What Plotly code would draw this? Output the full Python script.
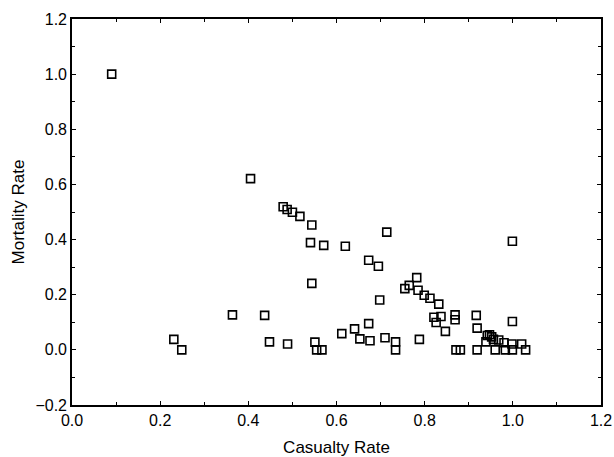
import plotly.graph_objects as go

casualty_rate = [0.090, 0.405, 0.479, 0.488, 0.500, 0.517, 0.544, 0.541, 0.571, 0.620,
                 0.714, 0.999, 0.673, 0.695, 0.544, 0.782, 0.755, 0.765, 0.785, 0.799,
                 0.812, 0.832, 0.698, 0.364, 0.437, 0.821, 0.837, 0.826, 0.847, 0.869,
                 0.869, 0.917, 0.919, 0.999, 0.673, 0.641, 0.612, 0.653, 0.676, 0.710,
                 0.734, 0.734, 0.788, 0.231, 0.249, 0.448, 0.489, 0.551, 0.555, 0.567,
                 0.871, 0.881, 0.919, 0.942, 0.947, 0.952, 0.939, 0.956, 0.968, 0.980,
                 0.998, 1.020, 0.960, 0.983, 0.999, 1.029]
mortality_rate = [1.000, 0.621, 0.519, 0.509, 0.499, 0.484, 0.453, 0.389, 0.379, 0.376,
                  0.427, 0.394, 0.325, 0.303, 0.241, 0.262, 0.222, 0.234, 0.216, 0.198,
                  0.187, 0.166, 0.181, 0.127, 0.125, 0.118, 0.121, 0.099, 0.067, 0.127,
                  0.109, 0.125, 0.079, 0.103, 0.095, 0.076, 0.059, 0.040, 0.033, 0.044,
                  0.029, 0.000, 0.038, 0.038, 0.000, 0.029, 0.021, 0.028, 0.000, 0.000,
                  0.000, 0.000, 0.000, 0.052, 0.055, 0.047, 0.029, 0.038, 0.036, 0.026,
                  0.021, 0.021, 0.000, 0.000, 0.000, 0.000]

x_ticks = [0.0, 0.2, 0.4, 0.6, 0.8, 1.0, 1.2]
y_ticks = [-0.2, 0.0, 0.2, 0.4, 0.6, 0.8, 1.0, 1.2]

fig = go.Figure(go.Scatter(
    x=casualty_rate, y=mortality_rate, mode="markers",
    marker=dict(symbol="square-open", size=8, color="black", line=dict(width=1.6)),
))

FONT = "Liberation Sans, Arial"
axis_common = dict(
    showgrid=False, zeroline=False, showline=True, linecolor="black", linewidth=1.6,
    mirror="ticks", ticks="inside", ticklen=4, tickcolor="black", tickwidth=1,
    minor=dict(ticks="inside", ticklen=3, tickcolor="black", dtick=0.1, tickwidth=1),
    tickfont=dict(family=FONT, size=16, color="black"),
    tickformat=".1f", automargin=False,
)

fig.update_layout(
    width=614, height=457,
    margin=dict(l=72, r=13, t=19, b=52),
    paper_bgcolor="white", plot_bgcolor="white",
    showlegend=False,
    xaxis=dict(range=[0, 1.2], tickvals=x_ticks,
               title=dict(text="Casualty Rate", standoff=14,
                          font=dict(family=FONT, size=17, color="black")),
               **axis_common),
    yaxis=dict(range=[-0.2, 1.2], tickvals=y_ticks,
               title=dict(text="Mortality Rate", standoff=6,
                          font=dict(family=FONT, size=17, color="black")),
               **axis_common),
)

fig.write_html(
    "out.html",
    config={"displayModeBar": False},
    post_script="document.body.style.margin='0';document.body.style.overflow='hidden';",
)
